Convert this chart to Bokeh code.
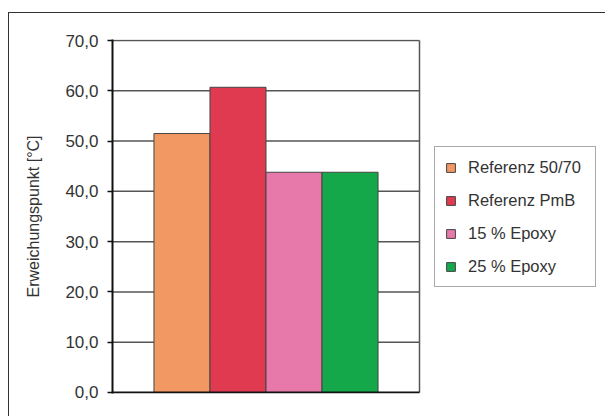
from bokeh.plotting import figure
from bokeh.models import (ColumnDataSource, FixedTicker, Range1d,
                          CustomJSTickFormatter)
from bokeh.embed import file_html
from bokeh.resources import INLINE

# Softening points of the binders
categories = ["Referenz 50/70", "Referenz PmB", "15 % Epoxy", "25 % Epoxy"]
values = [51.5, 60.7, 43.8, 43.8]
colors = ["#F29862", "#E03A50", "#E678AA", "#15A84B"]
y_ticks = [0, 10, 20, 30, 40, 50, 60, 70]

FONT = "Liberation Sans"
TEXT = "#333333"

# x is measured in bar widths; the bar group sits in a plot area
# that is narrower than the frame, leaving room for the legend.
GAP = 0.74                                   # free space left/right of the group
AREA_W = 2 * GAP + len(categories)           # plot-area width in bar widths
AREA_PX, FRAME_PX = 307, 491                 # plot-area / frame width in pixels
x_end = AREA_W * FRAME_PX / AREA_PX

bar_x = [GAP + 0.5 + i for i in range(len(categories))]
source = ColumnDataSource(dict(x=bar_x, cat=categories, val=values, color=colors))

p = figure(
    width=597, height=404,
    x_range=Range1d(0, x_end),
    y_range=Range1d(y_ticks[0] - 0.2, y_ticks[-1] + 0.2),
    output_backend="svg", toolbar_location=None,
    min_border_left=103, min_border_right=3,
    min_border_top=26, min_border_bottom=24,
    background_fill_color="white", border_fill_color="white",
    outline_line_color=None,
    margin=(12, 0, 0, 8),
)
p.styles = {"border-left": "1.5px solid #333333", "border-top": "1.5px solid #333333"}

# plot-area gridlines (including the top edge) and right edge
grid_y = y_ticks[1:]
p.segment(x0=[0] * len(grid_y), x1=[AREA_W] * len(grid_y), y0=grid_y, y1=grid_y,
          line_color="#555555", line_width=1.5)
p.segment(x0=[AREA_W], x1=[AREA_W], y0=[y_ticks[0]], y1=[y_ticks[-1]],
          line_color="#555555", line_width=1.5)

p.vbar(x="x", top="val", width=1.0, source=source,
       fill_color="color", line_color="#444444", line_width=1,
       legend_field="cat")

# black baseline at zero
p.segment(x0=[0], x1=[AREA_W], y0=[y_ticks[0]], y1=[y_ticks[0]],
          line_color="#111111", line_width=2)

# y axis
p.yaxis.ticker = FixedTicker(ticks=y_ticks)
p.yaxis.formatter = CustomJSTickFormatter(
    code="return tick.toFixed(1).replace('.', ',');")
p.yaxis.axis_label = "Erweichungspunkt [°C]"
p.yaxis.axis_label_text_font = FONT
p.yaxis.axis_label_text_font_size = "16px"
p.yaxis.axis_label_text_font_style = "normal"
p.yaxis.axis_label_text_color = TEXT
p.yaxis.axis_label_standoff = 20
p.yaxis.major_label_text_font = FONT
p.yaxis.major_label_text_font_size = "17px"
p.yaxis.major_label_text_color = TEXT
p.yaxis.major_label_standoff = 9
p.yaxis.major_tick_out = 5
p.yaxis.major_tick_in = 0
p.yaxis.major_tick_line_color = "#111111"
p.yaxis.major_tick_line_width = 1.5
p.yaxis.minor_tick_line_color = None
p.yaxis.axis_line_color = "#111111"
p.yaxis.axis_line_width = 2

p.xaxis.visible = False
p.xgrid.grid_line_color = None
p.ygrid.grid_line_color = None

# legend
leg = p.legend[0]
leg.location = (322, 106)
leg.border_line_color = "#555555"
leg.border_line_width = 1.5
leg.background_fill_color = "white"
leg.label_text_font = FONT
leg.label_text_font_size = "16.5px"
leg.label_text_color = TEXT
leg.glyph_width = 11
leg.glyph_height = 11
leg.label_height = 20
leg.label_width = 117
leg.label_standoff = 12
leg.spacing = 13
leg.padding = 10
leg.margin = 0

open("out.html", "w").write(file_html(p, INLINE))
